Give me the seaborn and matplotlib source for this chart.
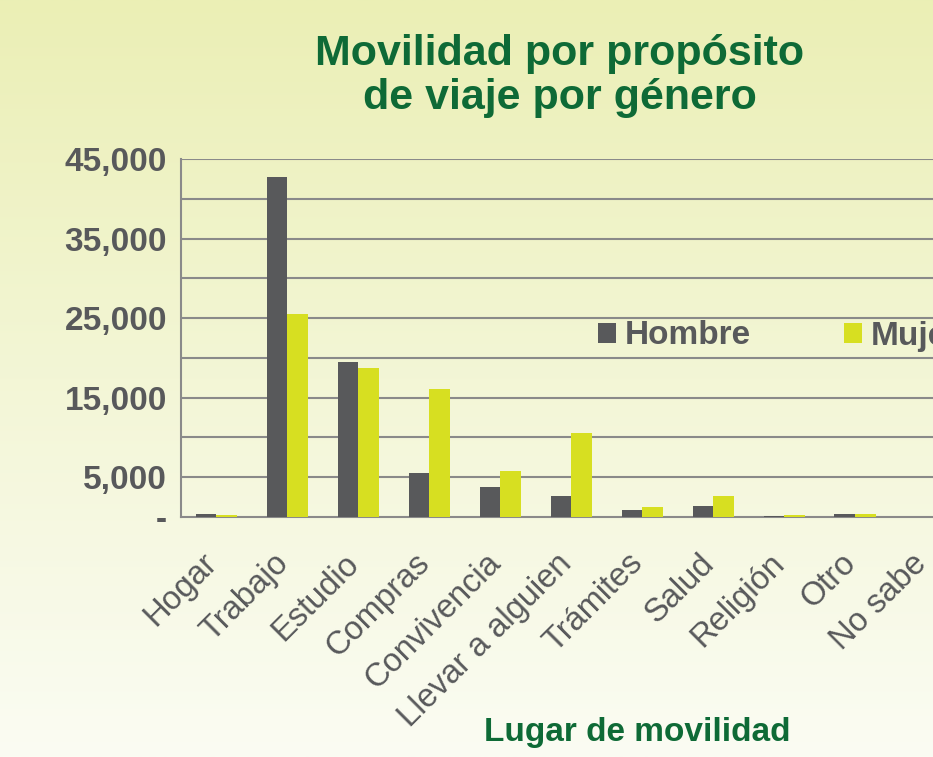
import numpy as np
import pandas as pd
import matplotlib
matplotlib.use("Agg")
import matplotlib.pyplot as plt
import matplotlib.transforms as mtransforms
from matplotlib.colors import LinearSegmentedColormap
from matplotlib.ticker import FixedLocator, MultipleLocator
import seaborn as sns

# ---- data ----
categorias = ["Hogar", "Trabajo", "Estudio", "Compras", "Convivencia",
              "Llevar a alguien", "Trámites", "Salud", "Religión", "Otro", "No sabe"]
hombre = [400, 42800, 19500, 5500, 3800, 2700, 900, 1400, 100, 400, 0]
mujer = [200, 25500, 18700, 16100, 5800, 10500, 1200, 2700, 300, 400, 0]
series = ["Hombre", "Mujeres"]
ytick_vals = [0, 5000, 15000, 25000, 35000, 45000]
ytick_labels = ["-", "5,000", "15,000", "25,000", "35,000", "45,000"]

df = pd.DataFrame({
    "Lugar": categorias * 2,
    "Viajes": hombre + mujer,
    "Sexo": [series[0]] * len(categorias) + [series[1]] * len(categorias),
})

sns.set_theme(style="white")
plt.rcParams["font.family"] = ["Liberation Sans", "DejaVu Sans"]

GRAY = "#58595B"
GREEN = "#0E6A36"
LIME = "#D7DF21"

W, H = 933, 757
fig = plt.figure(figsize=(W / 100, H / 100), dpi=100)
fig.patch.set_facecolor("#FBFCF3")

# background gradient
bg = fig.add_axes([0, 0, 1, 1], zorder=-10)
cmap = LinearSegmentedColormap.from_list("bg", ["#EBEFB5", "#F3F6D6", "#FBFCF3"])
grad = np.linspace(0, 1, 256).reshape(-1, 1)
bg.imshow(grad, aspect="auto", cmap=cmap, extent=[0, 1, 0, 1], origin="upper")
bg.axis("off")

# main axes (extends beyond right edge, like the clipped original)
left, right, top, bottom = 181, 961.5, 159, 517
ax = fig.add_axes([left / W, 1 - bottom / H, (right - left) / W, (bottom - top) / H])
ax.set_facecolor("none")

sns.barplot(data=df, x="Lugar", y="Viajes", hue="Sexo",
            palette=[GRAY, LIME], saturation=1, width=0.58, ax=ax,
            errorbar=None, zorder=3, linewidth=0)

ax.set_ylim(0, 45000)
ax.set_xlim(-0.5, len(categorias) - 0.5)
ax.yaxis.set_major_locator(FixedLocator(ytick_vals))
ax.set_yticklabels(ytick_labels)
ax.yaxis.set_minor_locator(MultipleLocator(5000))
ax.grid(False)
for yv in np.arange(5000, 45001, 5000):
    ax.axhline(yv, color="#8A8A8A", lw=1.5, zorder=1)
ax.tick_params(axis="y", which="both", length=0, pad=10, labelsize=24,
               labelcolor=GRAY)
for lbl in ax.get_yticklabels():
    lbl.set_fontweight("bold")

ax.tick_params(axis="x", length=0, pad=30, labelsize=23.5, labelcolor=GRAY)
offset = mtransforms.ScaledTranslation(-4 / 100, 0, fig.dpi_scale_trans)
for lbl in ax.get_xticklabels():
    lbl.set_rotation(45)
    lbl.set_ha("right")
    lbl.set_va("center")
    lbl.set_rotation_mode("anchor")
    lbl.set_transform(lbl.get_transform() + offset)

for s in ["top", "right"]:
    ax.spines[s].set_visible(False)
for s in ["left", "bottom"]:
    ax.spines[s].set_color("#8A8A8A")
    ax.spines[s].set_linewidth(1.5)

ax.set_ylabel("")
ax.set_xlabel("Lugar de movilidad", fontsize=24, fontweight="bold",
              color=GREEN, va="center")
ax.xaxis.set_label_coords((637 - left) / (right - left), -(733 - bottom) / (bottom - top))

leg = ax.legend(loc="center left", bbox_to_anchor=((598 - left) / (right - left),
                                                    (bottom - 336) / (bottom - top)),
                ncol=2, frameon=False, fontsize=24, handlelength=0.55,
                handleheight=0.55, handletextpad=0.25, columnspacing=2.8,
                borderaxespad=0, borderpad=0)
for t in leg.get_texts():
    t.set_color(GRAY)
    t.set_fontweight("bold")

fig.text(560 / W, 1 - 76 / H, "Movilidad por propósito\nde viaje por género",
         ha="center", va="center", fontsize=31, fontweight="bold",
         color=GREEN, linespacing=1.12)

fig.savefig("out.png", dpi=100)
